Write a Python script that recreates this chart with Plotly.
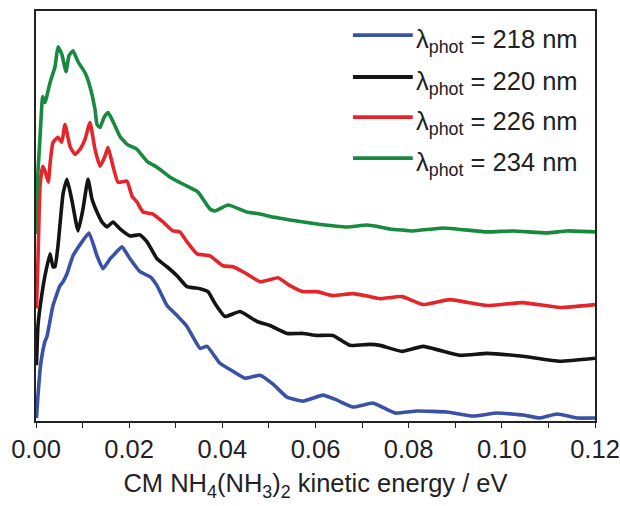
import plotly.graph_objects as go

# Kinetic energy (eV) and intensity (arb. units) per photolysis wavelength
e_218 = [0.0001, 0.00043, 0.00086, 0.00129, 0.00193, 0.00236, 0.00365, 0.00515, 0.00580, 0.00665,
         0.00794, 0.00987, 0.01138, 0.01309, 0.01438, 0.01589, 0.01653, 0.01846, 0.02018, 0.02233,
         0.02447, 0.02598, 0.02812, 0.03027, 0.03241, 0.03521, 0.03671, 0.03950, 0.04229, 0.04487,
         0.04809, 0.05088, 0.05388, 0.05732, 0.06161, 0.06462, 0.06805, 0.07234, 0.07707, 0.08179,
         0.08823, 0.09381, 0.09897, 0.10454, 0.10819, 0.11184, 0.11614, 0.12]
i_218 = [1, 24, 49, 64, 78, 83, 114, 134, 138, 146,
         164, 178, 187, 164, 151, 161, 164, 173, 161, 148,
         143, 134, 114, 104, 93, 71, 73, 56, 48, 41,
         44, 35, 22, 18, 24, 19, 12, 16, 6, 8,
         7, 3, 6, 4, 1, 5, 1, 1]

e_220 = [0.0001, 0.00043, 0.00122, 0.00193, 0.00301, 0.00365, 0.00408, 0.00472, 0.00580, 0.00665,
         0.00766, 0.00902, 0.01009, 0.01116, 0.01202, 0.01309, 0.01417, 0.01524, 0.01653, 0.01803,
         0.02018, 0.02233, 0.02383, 0.02598, 0.02812, 0.03027, 0.03241, 0.03521, 0.03692, 0.03843,
         0.04057, 0.04379, 0.04744, 0.05023, 0.05388, 0.05732, 0.06032, 0.06376, 0.06741, 0.07170,
         0.07385, 0.07857, 0.08308, 0.09102, 0.09682, 0.10454, 0.11249, 0.12]
i_220 = [54, 94, 124, 144, 166, 153, 153, 174, 226, 241,
         221, 189, 211, 241, 221, 208, 198, 193, 198, 191,
         184, 185, 178, 161, 153, 144, 133, 131, 128, 116,
         103, 108, 98, 94, 86, 86, 84, 84, 74, 75,
         74, 68, 73, 64, 66, 63, 58, 61]

e_226 = [0.0001, 0.00043, 0.00086, 0.00144, 0.00193, 0.00264, 0.00301, 0.00365, 0.00472, 0.00552,
         0.00623, 0.00730, 0.00837, 0.00945, 0.01052, 0.01159, 0.01267, 0.01374, 0.01481, 0.01546,
         0.01653, 0.01760, 0.01954, 0.02061, 0.02168, 0.02297, 0.02512, 0.02726, 0.02941, 0.03091,
         0.03241, 0.03456, 0.03735, 0.04014, 0.04229, 0.04444, 0.04809, 0.05023, 0.05195, 0.05453,
         0.05732, 0.06032, 0.06376, 0.06805, 0.07170, 0.07385, 0.07857, 0.08308, 0.08887, 0.09682,
         0.10454, 0.11249, 0.12]
i_226 = [111, 161, 234, 254, 249, 238, 256, 278, 283, 278,
         296, 274, 266, 271, 281, 298, 271, 254, 264, 273,
         254, 238, 239, 224, 218, 208, 206, 198, 189, 188,
         178, 166, 164, 154, 153, 148, 138, 140, 142, 134,
         128, 128, 124, 126, 123, 121, 123, 115, 120, 114,
         117, 112, 115]

e_234 = [0.0, 0.0001, 0.00086, 0.00144, 0.00193, 0.00230, 0.00301, 0.00408, 0.00472, 0.00558,
         0.00644, 0.00708, 0.00794, 0.00902, 0.01052, 0.01159, 0.01267, 0.01309, 0.01374, 0.01460,
         0.01546, 0.01653, 0.01803, 0.01954, 0.02168, 0.02383, 0.02598, 0.02877, 0.03241, 0.03478,
         0.03735, 0.03843, 0.04122, 0.04530, 0.04809, 0.05088, 0.05453, 0.06032, 0.06676, 0.07106,
         0.07385, 0.07599, 0.08093, 0.08737, 0.09682, 0.10240, 0.10970, 0.11399, 0.12]
i_234 = [186, 221, 283, 324, 318, 324, 338, 354, 374, 366,
         349, 365, 370, 359, 348, 334, 311, 296, 293, 303,
         308, 299, 284, 276, 271, 259, 253, 243, 234, 228,
         211, 209, 215, 208, 206, 203, 200, 196, 193, 195,
         193, 191, 189, 192, 188, 189, 187, 189, 188]

names = ["218", "220", "226", "234"]
colors = ["#3a52a6", "#141414", "#e4262b", "#178a3e"]
series = [(e_218, i_218), (e_220, i_220), (e_226, i_226), (e_234, i_234)]

tick_vals = [0.00, 0.02, 0.04, 0.06, 0.08, 0.10, 0.12]
tick_text = ["0.00", "0.02", "0.04", "0.06", "0.08", "0.10", "0.12"]

FONT = "Liberation Sans, Arial, sans-serif"

fig = go.Figure()
for (x, y), n, c in zip(series, names, colors):
    fig.add_trace(go.Scatter(x=x, y=y, mode="lines", name=f"λ<sub>phot</sub> = {n} nm",
                             line=dict(color=c, width=3.6, shape="spline", smoothing=0.4),
                             showlegend=False))

# manual legend (long line samples as in the original)
leg_y = [0.941, 0.839, 0.741, 0.641]
for n, c, ly in zip(names, colors, leg_y):
    fig.add_shape(type="line", xref="paper", yref="paper", x0=0.567, x1=0.674, y0=ly, y1=ly,
                  line=dict(color=c, width=3.8))
    fig.add_annotation(xref="paper", yref="paper", x=0.677, y=ly, yshift=-6, xanchor="left",
                       yanchor="middle", showarrow=False,
                       text=f"λ<sub>phot</sub> = {n} nm",
                       font=dict(family=FONT, size=25.5, color="#222"))

fig.update_layout(
    width=620, height=506,
    margin=dict(l=36, r=25, t=11, b=85),
    paper_bgcolor="white", plot_bgcolor="white",
    font=dict(family=FONT, size=25.5, color="#222"),
    xaxis=dict(range=[0, 0.12], tickvals=tick_vals, ticktext=tick_text, automargin=False,
               ticks="outside", ticklen=5, tickwidth=1.3, tickcolor="#222",
               minor=dict(dtick=0.01, tick0=0, ticks="outside", ticklen=5, tickwidth=1.3, tickcolor="#222"),
               showline=True, linecolor="#222", linewidth=1.6, mirror=True,
               showgrid=False, zeroline=False,
               tickfont=dict(size=25.5),
               title=dict(text="CM NH<sub>4</sub>(NH<sub>3</sub>)<sub>2</sub> kinetic energy / eV",
                          font=dict(size=25.5), standoff=12)),
    yaxis=dict(range=[-2, 410], showticklabels=False, ticks="", automargin=False,
               showline=True, linecolor="#222", linewidth=1.6, mirror=True,
               showgrid=False, zeroline=False),
)

fig.write_html("out.html")
